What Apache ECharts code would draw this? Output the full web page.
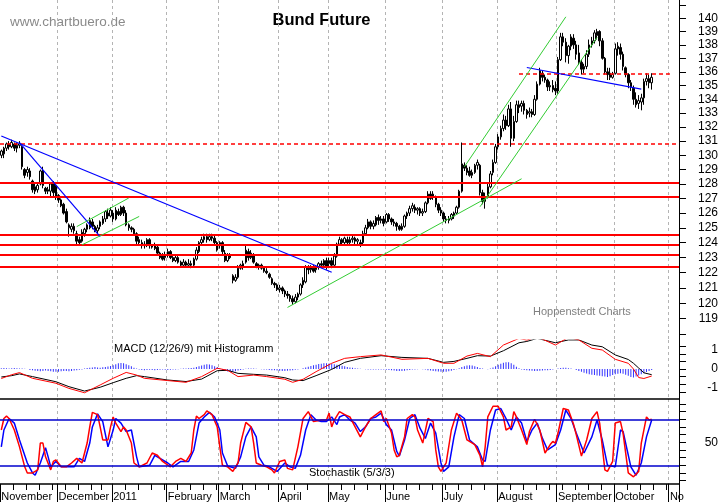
<!DOCTYPE html>
<html><head><meta charset="utf-8">
<script src="https://cdn.jsdelivr.net/npm/echarts@6/dist/echarts.min.js"></script>
<style>html,body{margin:0;padding:0;background:#fff}#c{width:723px;height:502px}</style>
</head><body><div id="c"></div>
<script>
// ---------- calendar / categories ----------
const firstDay = [2010, 10, 1];   // 1 Nov 2010
const lastDay = [2011, 10, 4];    // 4 Nov 2011
const holidays = ['2010-12-24', '2010-12-31', '2011-04-22', '2011-04-25'];
const monthLabels = {
  '2010-11': 'November', '2010-12': 'December', '2011-01': '2011', '2011-02': 'February',
  '2011-03': 'March', '2011-04': 'April', '2011-05': 'May', '2011-06': 'June', '2011-07': 'July',
  '2011-08': 'August', '2011-09': 'September', '2011-10': 'October', '2011-11': 'No'
};
const priceTicks = [118,119,120,121,122,123,124,125,126,127,128,129,130,131,132,133,134,135,136,137,138,139,140,141];
const priceLabels = [119,120,121,122,123,124,125,126,127,128,129,130,131,132,133,134,135,136,137,138,139,140];
const macdTicks = [-1.2,-0.8,-0.4,0,0.4,0.8,1.2];
const macdLabels = [-1,0,1];
const stochTicks = [0,10,20,30,40,50,60,70,80,90,100];
const stochLabels = [50];

// ---------- Bund Future daily bars: [open, close, low, high] ----------
const bars = [
// Nov 2010
[130.0,130.3,129.8,130.4],[130.1,130.5,129.8,130.6],[130.5,130.8,130.3,130.9],[130.8,130.6,130.4,131.0],
[130.6,130.9,130.5,131.1],[130.8,130.5,130.3,130.9],[130.5,130.7,130.2,130.9],[130.7,130.8,130.5,131.0],
[130.6,129.2,129.0,130.7],[129.0,128.6,128.4,129.1],[128.8,129.0,128.5,129.2],[128.9,128.5,128.3,129.1],
[128.2,127.6,127.4,128.3],[127.8,127.5,127.3,128.0],[127.6,127.9,127.4,128.1],[128.0,128.9,127.9,129.0],
[128.9,127.9,127.7,129.2],[127.7,127.5,127.3,127.8],[127.5,127.6,127.3,127.8],[127.5,128.0,127.1,128.1],
[128.0,127.4,127.1,128.2],[127.9,127.1,126.9,128.0],
// Dec
[127.2,126.9,126.7,127.3],[126.9,126.5,126.4,127.0],[126.6,126.0,125.9,126.7],[126.1,125.4,125.3,126.3],
[125.0,125.2,124.4,125.3],[124.9,125.1,124.7,125.3],[125.1,124.8,124.6,125.3],[124.6,124.1,123.9,124.8],
[124.2,124.0,123.9,124.4],[124.1,124.7,124.0,124.9],[124.6,124.9,124.4,125.0],[124.9,125.2,124.7,125.3],
[125.0,125.5,124.9,125.7],[125.4,125.1,124.9,125.6],[125.1,124.8,124.7,125.2],[124.8,125.0,124.6,125.2],
[125.1,125.4,124.9,125.5],[125.3,125.6,125.2,125.8],[125.6,126.1,125.4,126.2],[126.0,125.8,125.6,126.3],
[125.8,126.2,125.7,126.4],
// Jan 2011
[126.0,125.6,125.4,126.2],[125.6,126.2,125.5,126.4],[126.1,125.9,125.8,126.3],[125.9,126.4,125.8,126.5],
[126.4,126.0,125.8,126.5],[126.0,125.2,125.1,126.2],[125.2,125.0,124.8,125.3],[125.0,124.9,124.7,125.1],
[124.9,124.6,124.5,125.0],[124.6,124.1,123.9,124.7],[124.2,124.0,123.8,124.4],[124.0,123.8,123.6,124.2],
[123.8,123.9,123.6,124.1],[123.8,124.2,123.7,124.3],[124.2,123.8,123.6,124.3],[123.8,123.7,123.6,123.9],
[123.8,123.6,123.5,124.0],[123.7,123.3,123.2,123.8],[123.3,123.0,122.9,123.4],[123.1,122.9,122.8,123.3],
[123.0,123.2,122.8,123.4],
// Feb
[123.2,123.4,123.0,123.6],[123.4,123.0,122.9,123.5],[123.0,122.8,122.7,123.1],[122.8,123.0,122.7,123.2],
[123.0,122.7,122.6,123.1],[122.7,122.5,122.4,122.8],[122.5,122.7,122.4,122.9],[122.7,122.5,122.4,122.8],
[122.5,122.6,122.4,122.9],[122.6,122.5,122.3,122.8],[122.5,122.9,122.4,123.0],[122.9,123.5,122.8,123.7],
[123.4,124.0,123.3,124.1],[124.0,124.2,123.8,124.4],[124.2,124.4,124.0,124.6],[124.4,124.2,124.0,124.6],
[124.2,124.4,124.1,124.6],[124.4,124.3,124.1,124.6],[124.3,124.0,123.9,124.5],[124.0,123.5,123.4,124.1],
// Mar
[123.8,124.0,123.6,124.1],[124.0,123.4,123.2,124.1],[123.3,122.8,122.7,123.5],[122.8,123.2,122.7,123.3],
[123.2,123.0,122.9,123.3],[121.8,121.5,121.3,121.9],[121.5,121.7,121.4,121.9],[121.7,122.3,121.6,122.5],
[122.3,122.5,122.2,122.6],[122.4,122.6,122.2,122.8],[122.7,123.5,122.6,123.9],[123.4,123.0,122.8,123.6],
[123.0,123.3,122.9,123.5],[123.2,122.7,122.6,123.3],[122.6,122.4,122.3,122.7],[122.4,122.5,122.2,122.6],
[122.5,122.3,122.2,122.6],[122.3,122.1,122.0,122.4],[122.1,122.0,121.9,122.3],[121.9,121.7,121.6,122.0],
[121.6,121.3,121.2,121.7],[121.3,121.2,121.0,121.4],[121.2,120.9,120.8,121.3],
// Apr
[120.9,121.0,120.7,121.2],[121.0,120.8,120.6,121.1],[120.8,120.6,120.4,120.9],[120.6,120.5,120.3,120.8],
[120.5,120.3,120.1,120.6],[120.3,120.1,119.9,120.5],[120.1,120.4,120.0,120.6],[120.4,120.6,120.2,120.7],
[120.6,121.2,120.5,121.3],[121.2,121.5,121.0,121.7],[121.4,122.4,121.3,122.5],[122.3,122.2,121.9,122.5],
[122.2,122.4,122.0,122.5],[122.3,122.1,122.0,122.5],[122.2,122.4,122.0,122.5],[122.4,122.6,122.2,122.7],
[122.6,122.5,122.3,122.8],[122.5,122.8,122.4,122.9],[122.8,122.4,122.2,123.0],
// May
[122.6,122.8,122.3,123.0],[122.8,122.5,122.3,123.0],[122.5,123.1,122.4,123.3],[123.1,123.9,123.0,124.0],
[123.9,124.2,123.8,124.4],[124.2,124.0,123.8,124.3],[124.0,124.3,123.9,124.4],[124.2,124.0,123.8,124.4],
[124.0,124.2,123.9,124.4],[124.2,124.3,124.0,124.5],[124.3,124.1,123.9,124.4],[124.1,124.2,123.8,124.3],
[124.0,123.9,123.7,124.2],[124.0,124.6,123.9,124.8],[124.6,125.0,124.5,125.2],[125.0,125.4,124.9,125.6],
[125.4,125.1,124.9,125.5],[125.1,125.3,124.9,125.5],[125.2,125.7,125.1,125.8],[125.7,125.5,125.2,125.9],
[125.5,125.6,125.3,125.8],[125.6,125.3,125.1,125.8],
// Jun
[125.4,125.9,125.3,126.0],[125.9,125.6,125.4,126.0],[125.6,125.4,125.2,125.7],[125.4,125.3,125.1,125.6],
[125.3,125.1,124.8,125.4],[125.1,124.9,124.8,125.2],[124.9,125.1,124.8,125.3],[125.1,125.8,125.0,125.9],
[125.8,126.0,125.6,126.1],[126.0,126.3,125.8,126.5],[126.3,126.5,126.1,126.7],[126.4,126.2,126.0,126.6],
[126.2,126.3,125.9,126.4],[126.3,126.0,125.8,126.4],[126.0,126.1,125.8,126.3],[126.1,126.7,126.0,126.8],
[126.7,127.3,126.6,127.5],[127.3,127.0,126.9,127.5],[127.1,127.3,126.9,127.5],[127.1,126.6,126.4,127.2],
[126.6,126.2,126.0,126.7],[126.2,126.0,125.8,126.4],
// Jul
[126.0,125.6,125.4,126.1],[125.6,125.5,125.3,125.8],[125.5,125.6,125.3,125.8],[125.6,125.9,125.5,126.0],
[125.8,126.0,125.6,126.1],[126.0,126.4,125.9,126.5],[126.4,127.5,126.3,127.6],[127.5,129.4,127.4,130.9],
[129.3,129.1,128.9,129.5],[129.1,128.8,128.6,129.3],[128.9,128.6,128.5,129.2],[128.6,128.8,128.4,129.0],
[128.8,129.3,128.7,129.4],[129.3,129.5,129.0,129.7],[129.3,127.4,127.2,129.4],[127.4,126.8,126.6,127.6],
[126.8,127.1,126.3,127.4],[127.1,127.8,127.0,128.0],[127.8,128.7,127.7,128.9],[128.8,129.5,128.6,129.7],
[129.5,130.6,129.4,130.8],
// Aug
[130.6,131.3,130.4,131.5],[131.3,131.9,131.1,132.1],[131.9,132.5,131.7,132.9],[132.5,132.1,131.8,132.8],
[132.1,133.3,132.0,133.6],[133.3,131.2,130.6,133.8],[131.2,132.4,131.0,132.8],[132.4,133.6,132.3,133.9],
[133.6,133.4,133.0,133.9],[133.5,133.7,133.1,133.9],[133.7,133.2,132.9,133.9],[133.2,132.9,132.6,133.3],
[133.0,133.1,132.7,133.4],[133.1,132.9,132.7,133.3],[132.9,134.0,132.8,134.3],[134.0,135.1,133.9,135.3],
[135.1,136.1,135.0,136.3],[135.9,135.6,135.3,136.1],[135.6,135.4,135.2,135.8],[135.4,134.9,134.6,135.5],
[134.9,135.0,134.6,135.3],[135.0,134.7,134.5,135.4],[134.8,134.6,134.3,135.3],
// Sep
[134.6,136.9,134.4,137.1],[136.9,138.6,136.8,138.9],[138.6,138.2,137.9,138.9],[138.2,137.2,136.7,138.5],
[137.2,137.9,136.6,138.0],[137.9,138.6,137.6,138.8],[138.5,138.0,137.7,138.8],[138.0,137.3,136.9,138.3],
[137.4,136.7,136.5,138.0],[136.7,136.2,135.8,136.9],[136.2,136.4,135.9,136.6],[136.4,137.3,136.2,137.6],
[137.3,138.0,137.1,138.4],[138.0,138.3,137.8,138.6],[138.3,138.9,138.1,139.1],[138.7,139.0,138.4,139.2],
[139.0,138.3,137.9,139.1],[138.3,137.0,136.9,138.5],[137.0,136.0,135.8,137.1],[136.0,135.8,135.4,136.3],
[135.9,135.6,135.4,136.3],[135.6,135.8,135.5,136.0],
// Oct
[135.9,137.7,135.8,138.1],[137.7,137.9,137.2,138.2],[137.8,137.3,136.9,138.1],[137.3,136.4,136.1,137.5],
[136.3,135.8,135.6,136.4],[135.8,135.2,134.8,135.9],[135.2,134.9,134.6,135.4],[134.8,134.0,133.6,135.0],
[134.0,133.6,133.4,134.5],[133.7,133.9,133.3,134.3],[133.8,134.1,133.2,134.4],[134.1,135.3,133.6,135.5],
[135.3,135.5,135.0,135.9],[135.5,135.2,134.8,135.8],[135.2,135.6,134.7,135.9]
];

// ---------- MACD (12/26/9), read at these bar indices ----------
const macdIdx    = [0,4,7,12,21,26,32,38,43,48,52,55,64,71,77,83,87,91,97,102,109,112,116,121,127,132,138,146,154,164,170,174,179,183,188,193,199,202,206,213,218,222,227,231,236,241,243,245,247,250];
const macdLine   = [-0.50,-0.30,-0.19,-0.49,-0.75,-1.02,-1.25,-0.84,-0.49,-0.18,-0.32,-0.49,-0.61,-0.70,-0.40,0.04,-0.07,-0.40,-0.32,-0.40,-0.54,-0.70,-0.54,-0.14,0.30,0.56,0.65,0.74,0.51,0.56,0.30,0.30,0.68,0.82,0.65,1.26,1.61,1.52,1.70,1.26,1.67,1.53,1.09,1.00,0.51,0.30,0.00,-0.45,-0.50,-0.37];
const signalLine = [-0.42,-0.35,-0.26,-0.40,-0.67,-0.93,-1.16,-0.96,-0.72,-0.49,-0.35,-0.40,-0.58,-0.66,-0.53,-0.09,-0.07,-0.23,-0.28,-0.32,-0.46,-0.58,-0.61,-0.35,-0.02,0.35,0.56,0.70,0.61,0.56,0.35,0.40,0.56,0.70,0.68,0.96,1.38,1.45,1.61,1.38,1.53,1.53,1.26,1.17,0.74,0.50,0.30,0.05,-0.20,-0.30];
const histogram = [
0.04,0.05,0.04,0.03,0.04,0.05,0.04,0.03,0.02,0.01,0,
-0.05,-0.07,-0.09,-0.11,-0.12,-0.1,-0.08,-0.1,-0.12,-0.14,-0.15,-0.14,-0.12,-0.1,-0.1,-0.12,-0.1,-0.08,-0.06,-0.04,-0.02,
0.03,0.05,0.07,0.08,0.1,0.08,0.07,0.09,0.11,0.13,
0.16,0.2,0.25,0.3,0.32,0.3,0.25,0.2,0.14,
0.06,0.02,-0.03,-0.05,-0.06,-0.05,-0.04,-0.05,-0.06,-0.05,-0.04,-0.03,-0.04,-0.05,-0.04,-0.03,-0.02,-0.01,
0.01,0.02,0.03,0.04,0.05,0.07,
0.1,0.14,0.18,0.22,0.25,0.24,0.2,0.15,0.1,
0.02,-0.05,-0.1,-0.13,-0.15,-0.14,-0.12,-0.08,-0.05,
-0.02,0.01,0.03,0.03,0.02,0.01,0,-0.01,-0.02,-0.03,
-0.05,-0.06,-0.07,-0.08,-0.09,-0.1,-0.1,-0.09,-0.08,-0.06,-0.04,-0.02,0,
0.04,0.08,0.12,0.16,0.2,0.23,0.26,0.28,0.3,0.3,0.29,0.27,0.25,0.22,0.2,0.17,0.14,0.11,0.08,0.06,0.04,0.02,0.01,
0,-0.01,-0.02,-0.02,-0.03,-0.03,-0.02,-0.02,-0.03,-0.04,-0.05,-0.06,
-0.08,-0.1,-0.11,-0.1,-0.09,-0.07,-0.05,
-0.03,-0.02,-0.01,0,-0.01,-0.03,
-0.06,-0.08,-0.1,-0.12,-0.13,-0.14,-0.15,-0.14,-0.12,-0.09,-0.05,-0.01,
0.04,0.1,0.15,0.18,0.2,0.18,0.14,0.1,
0.05,0.02,0,-0.01,0.02,
0.08,0.15,0.22,0.28,0.33,0.36,0.35,0.3,0.22,0.12,
0.04,-0.02,-0.05,-0.07,-0.08,-0.09,-0.1,-0.1,-0.09,-0.08,-0.07,-0.06,-0.05,-0.03,
0,0.03,0.05,0.07,0.06,0.04,0.02,0,
-0.05,-0.1,-0.15,-0.2,-0.24,-0.27,-0.3,-0.32,-0.34,-0.36,-0.38,-0.4,-0.42,-0.38,-0.32,-0.28,-0.25,-0.22,-0.25,-0.3,-0.36,-0.42,-0.45,-0.4,-0.34,-0.28,-0.22,-0.16,-0.1,-0.05
];

// ---------- Stochastik (5/3/3): [bar index, value] ----------
const stochK = [[0,66],[1,81],[2,84],[3,81],[5,66],[7,44],[9,18],[10,10],[12,10],[14,14],[15,49],[16,49],[17,31],[19,14],[20,25],[21,27],[23,18],[25,18],[27,23],[29,29],[31,23],[33,49],[34,70],[35,89],[37,86],[38,70],[39,53],[41,53],[42,70],[43,83],[44,75],[46,64],[47,70],[48,66],[50,49],[51,23],[53,18],[56,23],[58,36],[60,33],[62,25],[65,18],[67,25],[69,29],[71,25],[73,36],[74,66],[75,84],[76,81],[78,86],[79,91],[81,86],[83,70],[84,44],[85,20],[87,18],[89,12],[91,23],[92,49],[94,76],[96,70],[97,49],[98,23],[100,20],[102,18],[104,14],[105,10],[107,25],[109,27],[110,16],[112,14],[114,44],[116,81],[118,90],[120,77],[123,79],[125,79],[126,88],[127,70],[128,79],[130,90],[132,86],[134,83],[136,70],[138,57],[140,70],[142,81],[144,86],[146,91],[147,77],[148,81],[150,62],[151,40],[152,31],[153,33],[155,57],[156,81],[158,86],[159,83],[160,66],[162,49],[164,81],[166,77],[167,40],[168,18],[169,12],[171,23],[173,66],[175,88],[177,79],[179,53],[182,47],[184,33],[185,18],[186,44],[187,83],[189,97],[191,97],[193,83],[194,66],[196,70],[197,90],[198,83],[200,66],[202,47],[203,64],[205,80],[207,66],[209,36],[211,47],[212,51],[213,49],[214,62],[216,94],[218,92],[220,73],[221,60],[223,32],[225,53],[227,81],[229,90],[230,75],[232,14],[233,12],[235,25],[236,75],[238,77],[239,62],[241,10],[243,5],[245,12],[246,49],[248,83],[249,79],[250,80]];
const stochD = [[0,44],[1,66],[3,81],[5,75],[7,53],[10,23],[12,10],[13,7],[15,23],[17,43],[18,31],[19,18],[21,25],[23,18],[25,18],[28,18],[30,29],[32,25],[34,49],[35,70],[37,87],[39,77],[41,44],[43,66],[44,81],[46,75],[48,64],[50,66],[52,31],[53,18],[57,20],[59,33],[61,29],[64,23],[66,18],[69,25],[72,25],[74,40],[76,75],[78,83],[80,89],[82,83],[84,66],[85,36],[87,19],[90,16],[92,31],[94,57],[96,70],[98,57],[99,31],[101,20],[103,18],[106,12],[109,23],[111,18],[113,16],[115,33],[117,66],[119,86],[121,79],[123,77],[125,77],[127,83],[129,73],[130,83],[132,86],[134,79],[136,75],[138,64],[140,70],[142,81],[144,83],[146,88],[148,73],[150,66],[152,38],[153,32],[155,53],[157,81],[159,86],[161,68],[163,55],[165,75],[167,62],[169,23],[170,12],[172,18],[174,57],[176,86],[178,81],[180,53],[183,44],[185,27],[186,25],[188,66],[190,92],[192,94],[194,81],[196,66],[198,83],[200,75],[202,51],[204,66],[206,75],[208,55],[210,40],[213,47],[215,66],[217,92],[219,81],[221,62],[224,36],[227,57],[229,79],[231,53],[233,20],[236,18],[238,66],[239,64],[242,18],[244,7],[246,23],[248,57],[250,79]];
const stochBands = [80, 20];

// ---------- chart annotations ----------
const supportLevels = [128.05, 127.15, 124.55, 123.88, 123.2, 122.38];
const dashedLevel = 130.78;
const dashedPartial = [[199, 135.84], [257, 135.84]];
const blueTrends = [
  [[0, 131.36], [127, 122.03]],
  [[7, 130.89], [38, 124.40]],
  [[202, 136.32], [246, 134.74]]
];
const greenTrends = [
  [[31, 123.85], [53, 125.77]],
  [[29, 125.08], [49, 127.03]],
  [[110, 119.73], [200, 128.36]],
  [[178, 129.19], [217, 140.11]],
  [[184, 126.43], [229, 138.56]]
];

// ---------- build categories ----------
const cats = [], monthStart = new Set(), mondays = new Set();
(function () {
  let t = Date.UTC(firstDay[0], firstDay[1], firstDay[2]);
  const end = Date.UTC(lastDay[0], lastDay[1], lastDay[2]);
  let prev = '';
  for (; t <= end; t += 86400000) {
    const dt = new Date(t), wd = dt.getUTCDay();
    if (wd === 0 || wd === 6) continue;
    const s = dt.toISOString().slice(0, 10);
    if (holidays.indexOf(s) >= 0) continue;
    const m = s.slice(0, 7);
    if (m !== prev) { monthStart.add(cats.length); prev = m; }
    if (wd === 1) mondays.add(cats.length);
    cats.push(s);
  }
})();

const FONT = 'Liberation Sans';
const monthSplit = {
  show: true,
  interval: (i) => monthStart.has(i) && i > 0,
  lineStyle: { color: '#b4b4b4', type: [3, 3], width: 1 }
};
const noAxis = { show: false };

const option = {
  animation: false,
  backgroundColor: '#ffffff',
  textStyle: { fontFamily: FONT },
  grid: [
    { left: 0, right: 44, top: 0, height: 340, containLabel: false, outerBoundsMode: 'none' },
    { left: 0, right: 44, top: 340, height: 59, containLabel: false, outerBoundsMode: 'none' },
    { left: 0, right: 44, top: 399, height: 85, containLabel: false, outerBoundsMode: 'none' }
  ],
  xAxis: [
    { type: 'category', gridIndex: 0, data: cats, boundaryGap: true, axisLine: noAxis, axisTick: noAxis, axisLabel: noAxis, splitLine: monthSplit },
    { type: 'category', gridIndex: 1, data: cats, boundaryGap: true, position: 'bottom',
      axisLine: { show: true, onZero: false, lineStyle: { color: '#000', width: 1.5 } }, axisTick: noAxis, axisLabel: noAxis, splitLine: monthSplit },
    { type: 'category', gridIndex: 2, data: cats, boundaryGap: true, position: 'bottom',
      axisLine: { show: true, onZero: false, lineStyle: { color: '#000', width: 1.5 } },
      axisTick: { show: true, interval: (i) => monthStart.has(i), length: 18, lineStyle: { color: '#000', width: 1 } },
      axisLabel: { show: true, interval: (i) => monthStart.has(i), formatter: (v) => monthLabels[v.slice(0, 7)],
        align: 'left', margin: 7, fontSize: 11, color: '#000', fontFamily: FONT },
      splitLine: monthSplit },
    { type: 'category', gridIndex: 2, data: cats, boundaryGap: true, position: 'bottom',
      axisLine: { show: false, onZero: false },
      axisTick: { show: true, interval: (i) => mondays.has(i) && !monthStart.has(i), length: 6, lineStyle: { color: '#000', width: 1 } },
      axisLabel: noAxis, splitLine: { show: false } }
  ],
  yAxis: [
    { type: 'log', gridIndex: 0, position: 'right', min: 117.64, max: 141.39,
      axisLine: { show: true, lineStyle: { color: '#000', width: 1 } },
      axisTick: { show: true, length: 7, customValues: priceTicks, lineStyle: { color: '#000' } },
      axisLabel: { show: true, customValues: priceLabels, align: 'right', margin: 39, fontSize: 12, color: '#000', fontFamily: FONT, formatter: (v) => String(Math.round(v)) },
      splitLine: { show: false } },
    { type: 'value', gridIndex: 1, position: 'right', min: -1.579, max: 1.526,
      axisLine: { show: true, lineStyle: { color: '#000', width: 1 } },
      axisTick: { show: true, length: 7, customValues: macdTicks, lineStyle: { color: '#000' } },
      axisLabel: { show: true, customValues: macdLabels, align: 'right', margin: 39, fontSize: 12, color: '#000', fontFamily: FONT },
      splitLine: { show: false } },
    { type: 'value', gridIndex: 2, position: 'right', min: -4.4, max: 106.4,
      axisLine: { show: true, lineStyle: { color: '#000', width: 1 } },
      axisTick: { show: true, length: 7, customValues: stochTicks, lineStyle: { color: '#000' } },
      axisLabel: { show: true, customValues: stochLabels, align: 'right', margin: 39, fontSize: 12, color: '#000', fontFamily: FONT },
      splitLine: { show: false } }
  ],
  graphic: [
    { type: 'text', x: 10, y: 22, silent: true, style: { text: 'www.chartbuero.de', fill: '#8a8a8a', font: '13.5px "Liberation Sans"', verticalAlign: 'middle' } },
    { type: 'text', x: 321.5, y: 20, silent: true, style: { text: 'Bund Future', fill: '#000', font: 'bold 16.5px "Liberation Sans"', align: 'center', verticalAlign: 'middle' } },
    { type: 'text', x: 533, y: 312, silent: true, style: { text: 'Hoppenstedt Charts', fill: '#808080', font: '11px "Liberation Sans"', verticalAlign: 'middle' } },
    { type: 'text', x: 114, y: 349, silent: true, style: { text: 'MACD (12/26/9) mit Histogramm', fill: '#000', font: '11px "Liberation Sans"', verticalAlign: 'middle' } },
    { type: 'text', x: 309, y: 473, silent: true, style: { text: 'Stochastik (5/3/3)', fill: '#000', font: '11px "Liberation Sans"', verticalAlign: 'middle' } }
  ],
  series: [
    { type: 'candlestick', name: 'Bund Future', xAxisIndex: 0, yAxisIndex: 0, data: bars, barWidth: 2,
      itemStyle: { color: '#ffffff', color0: '#000000', borderColor: '#000000', borderColor0: '#000000', borderWidth: 1 },
      markLine: { silent: true, symbol: 'none', label: { show: false }, animation: false,
        data: [].concat(
          supportLevels.map(v => ({ yAxis: v, lineStyle: { color: '#ff0000', width: 2, type: 'solid' } })),
          [{ yAxis: dashedLevel, lineStyle: { color: '#ff0000', width: 1.5, type: [4, 3] } }],
          [[{ coord: dashedPartial[0], lineStyle: { color: '#ff0000', width: 1.5, type: [4, 3] } }, { coord: dashedPartial[1] }]],
          blueTrends.map(s => [{ coord: s[0], lineStyle: { color: '#0000ff', width: 1.2, type: 'solid' } }, { coord: s[1] }]),
          greenTrends.map(s => [{ coord: s[0], lineStyle: { color: '#33cc33', width: 1, type: 'solid' } }, { coord: s[1] }])
        ) } },
    { type: 'bar', name: 'Histogramm', xAxisIndex: 1, yAxisIndex: 1, data: histogram, barWidth: 1,
      itemStyle: { color: '#3333ff' } },
    { type: 'line', name: 'Signal', xAxisIndex: 1, yAxisIndex: 1, data: macdIdx.map((i, k) => [i, signalLine[k]]),
      showSymbol: false, lineStyle: { color: '#000', width: 1 } },
    { type: 'line', name: 'MACD', xAxisIndex: 1, yAxisIndex: 1, data: macdIdx.map((i, k) => [i, macdLine[k]]),
      showSymbol: false, lineStyle: { color: '#ff0000', width: 1 } },
    { type: 'line', name: '%D', xAxisIndex: 2, yAxisIndex: 2, data: stochD,
      showSymbol: false, lineStyle: { color: '#0000ff', width: 1.5 },
      markLine: { silent: true, symbol: 'none', label: { show: false }, animation: false,
        data: stochBands.map(v => ({ yAxis: v, lineStyle: { color: '#0000cc', width: 1.5, type: 'solid' } })) } },
    { type: 'line', name: '%K', xAxisIndex: 2, yAxisIndex: 2, data: stochK,
      showSymbol: false, lineStyle: { color: '#ff0000', width: 1.5 } }
  ]
};
echarts.init(document.getElementById('c'), null, { renderer: 'canvas' }).setOption(option);
</script></body></html>
